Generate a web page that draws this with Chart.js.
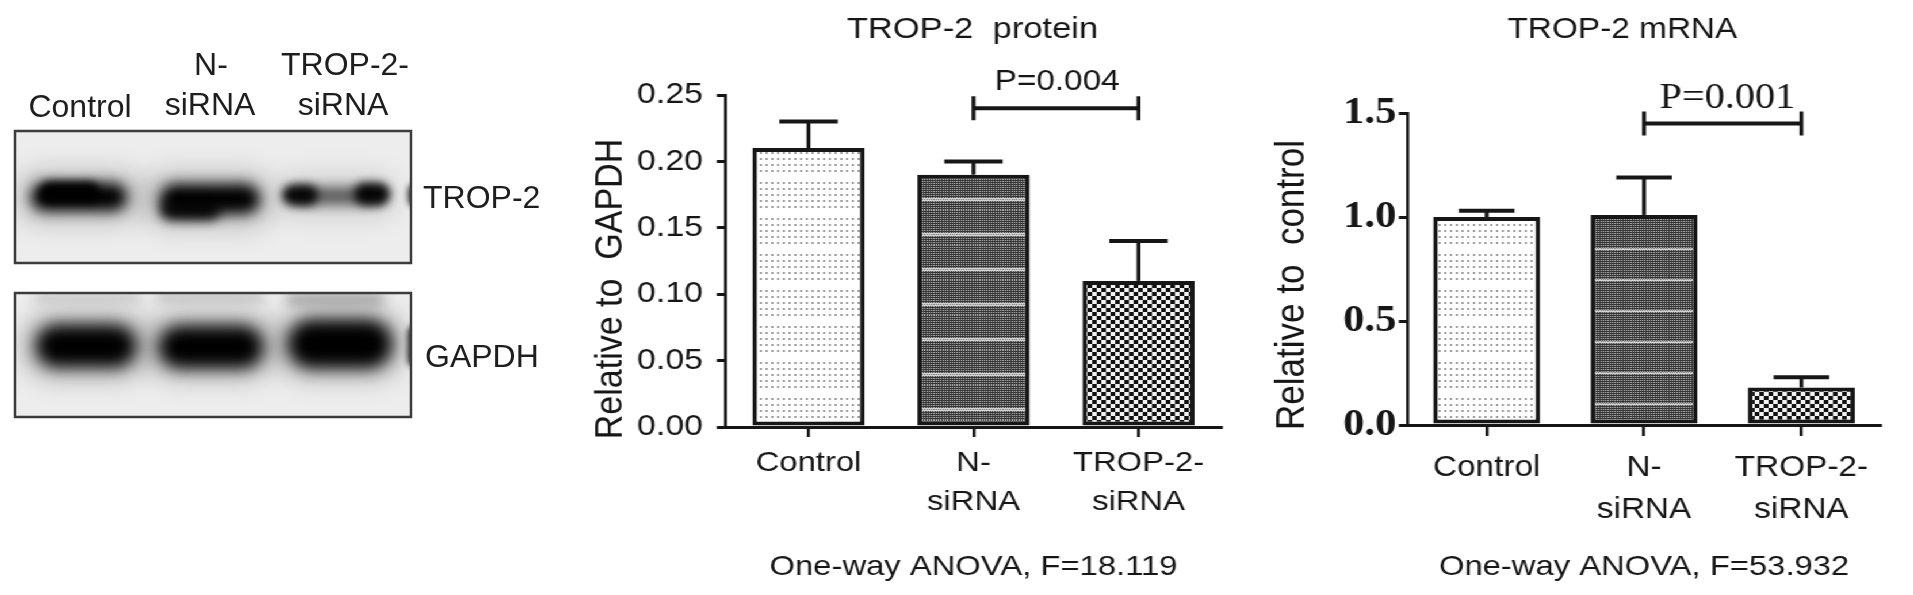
<!DOCTYPE html>
<html>
<head>
<meta charset="utf-8">
<script src="https://cdn.jsdelivr.net/npm/chart.js@4"></script>
<style>
  html, body { margin: 0; padding: 0; background: #fff; overflow: hidden; }
  #blot { position: absolute; left: 0; top: 0; }
  /* the reference figure is stretched sideways, so the chart part is drawn narrow and scaled */
  #wrap { position: absolute; left: 540px; top: 0; width: 1193px; height: 595px;
          transform: scaleX(1.1503); transform-origin: 0 0; }
  .box { position: absolute; top: 0; height: 595px; }
</style>
</head>
<body>
<canvas id="blot" width="540" height="595"></canvas>
<div id="wrap">
  <div class="box" style="left:0; width:620px;"><canvas id="protein"></canvas></div>
  <div class="box" style="left:620px; width:573px;"><canvas id="mrna"></canvas></div>
</div>
<script>
// data
const groups = ['Control', ['N-', 'siRNA'], ['TROP-2-', 'siRNA']];
const proteinMeans = [0.21, 0.19, 0.11];
const proteinErrors = [0.02, 0.01, 0.03];
const proteinTicks = ['0.00', '0.05', '0.10', '0.15', '0.20', '0.25'];
const mrnaMeans = [1.00, 1.01, 0.18];
const mrnaErrors = [0.03, 0.18, 0.05];
const mrnaTicks = ['0.0', '0.5', '1.0', '1.5'];

const INK = '#161616';
const SANS = "'Liberation Sans', Arial, Helvetica, sans-serif";
const SERIF = "'Liberation Serif', 'Times New Roman', serif";
Chart.defaults.color = INK;

// bar fill patterns
function makePattern(w, h, paint) {
    const c = document.createElement('canvas');
    c.width = w; c.height = h;
    const g = c.getContext('2d');
    paint(g, w, h);
    return g.createPattern(c, 'repeat');
}

// white with small grey dots
function dotPattern() {
    return makePattern(5, 36, (g, w, h) => {
        g.fillStyle = '#ffffff'; g.fillRect(0, 0, w, h);
        g.fillStyle = '#a2a2a2';
        for (let r = 0; r < 5; r++) g.fillRect(1, 2 + r * 6, 2, 2);
    });
}

// dense dark grey with lighter bands
function densePattern(h, bandRow) {
    return makePattern(2, h, (g, w) => {
        for (let y = 0; y < h; y++) {
            const band = Math.abs(y - bandRow) <= 1;
            for (let x = 0; x < w; x++) {
                const light = (x + y) % 2 === 0 && y % 2 === 0;
                g.fillStyle = band ? (light ? '#777' : '#d2d2d2') : (light ? '#bdbdbd' : '#353535');
                g.fillRect(x, y, 1, 1);
            }
        }
    });
}

// black and white checks
function checkPattern() {
    return makePattern(8, 8, g => {
        g.fillStyle = '#f2f2f2'; g.fillRect(0, 0, 8, 8);
        g.fillStyle = '#111'; g.fillRect(0, 0, 4, 4); g.fillRect(4, 4, 4, 4);
    });
}

// error bars, bracket, p value, titles
const annotate = {
    id: 'annotate',
    afterDatasetsDraw(chart, args, o) {
        const ctx = chart.ctx;
        const xs = chart.scales.x, ys = chart.scales.y;
        const bars = chart.getDatasetMeta(0).data;
        ctx.save();
        ctx.strokeStyle = INK;
        ctx.fillStyle = INK;

        o.errors.forEach((err, i) => {
            const bar = bars[i];
            const yTop = ys.getPixelForValue(o.means[i] + err);
            const half = bar.width * 0.26;
            ctx.lineWidth = 3.4;
            ctx.beginPath(); ctx.moveTo(bar.x, bar.y); ctx.lineTo(bar.x, yTop); ctx.stroke();
            ctx.lineWidth = 4;
            ctx.beginPath(); ctx.moveTo(bar.x - half, yTop); ctx.lineTo(bar.x + half, yTop); ctx.stroke();
        });

        const x0 = xs.getPixelForValue(o.bracket[0]);
        const x1 = xs.getPixelForValue(o.bracket[1]);
        const yb = ys.getPixelForValue(o.bracketAt);
        ctx.lineWidth = 4;
        ctx.beginPath(); ctx.moveTo(x0, yb); ctx.lineTo(x1, yb); ctx.stroke();
        ctx.lineWidth = 3.4;
        ctx.beginPath();
        ctx.moveTo(x0, yb - 12); ctx.lineTo(x0, yb + 12);
        ctx.moveTo(x1, yb - 12); ctx.lineTo(x1, yb + 12);
        ctx.stroke();

        ctx.textAlign = 'center';
        ctx.textBaseline = 'alphabetic';
        ctx.font = o.pFont;
        ctx.fillText(o.pText, (x0 + x1) / 2 + o.pShift, yb - o.pGap);

        ctx.font = o.titleFont;
        ctx.fillText(o.title, o.titleX, 38);

        ctx.translate(o.yTitleX, o.yTitleY);
        ctx.rotate(-Math.PI / 2);
        ctx.textBaseline = 'middle';
        ctx.font = o.yTitleFont;
        ctx.fillText(o.yTitle, 0, 0);
        ctx.restore();
    }
};

function barChart(id, cfg) {
    return new Chart(document.getElementById(id), {
        type: 'bar',
        data: {
            labels: groups,
            datasets: [{
                data: cfg.means,
                backgroundColor: cfg.fills,
                borderColor: INK,
                borderWidth: 4,
                borderSkipped: false,
                barPercentage: 0.68,
                categoryPercentage: 1
            }]
        },
        options: {
            responsive: true,
            maintainAspectRatio: false,
            animation: false,
            layout: { padding: { top: cfg.top, right: cfg.right, bottom: 0, left: 0 } },
            plugins: {
                legend: { display: false },
                tooltip: { enabled: false },
                annotate: cfg.notes
            },
            scales: {
                x: {
                    offset: true,
                    grid: { offset: false, drawOnChartArea: false, tickLength: cfg.xTick, lineWidth: 2.6, color: INK },
                    border: { color: INK, width: 3 },
                    ticks: { color: INK, font: cfg.xFont, padding: cfg.xPad, maxRotation: 0, autoSkip: false },
                    title: {
                        display: true, text: cfg.anova, color: INK,
                        font: { family: SANS, size: 28.5, lineHeight: 1.2 },
                        padding: { top: 0, bottom: 11 }
                    },
                    afterFit: s => { s.height = 595 - cfg.bottomAt; }
                },
                y: {
                    min: 0,
                    max: cfg.max,
                    ticks: {
                        stepSize: cfg.step,
                        color: INK,
                        font: cfg.yFont,
                        padding: cfg.yPad,
                        callback: (v, i) => cfg.tickLabels[i]
                    },
                    grid: { drawOnChartArea: false, tickLength: 8, lineWidth: 3, color: INK },
                    border: { color: INK, width: 2.6 },
                    afterFit: s => { s.width = cfg.axisAt; }
                }
            }
        },
        plugins: [annotate]
    });
}

// TROP-2 protein
barChart('protein', {
    means: proteinMeans,
    fills: [dotPattern(), densePattern(35, 24), checkPattern()],
    max: 0.25, step: 0.05, tickLabels: proteinTicks,
    top: 95, bottomAt: 427, axisAt: 161.7, right: 28,
    xTick: 10, xPad: 7,
    xFont: { family: SANS, size: 28.5, lineHeight: 1.36 },
    yFont: { family: SANS, size: 29.5 }, yPad: 12,
    anova: 'One-way ANOVA, F=18.119',
    notes: {
        means: proteinMeans, errors: proteinErrors,
        bracket: [1, 2], bracketAt: 0.24,
        pText: 'P=0.004', pFont: `29px ${SANS}`, pShift: 1, pGap: 18,
        title: 'TROP-2  protein', titleFont: `30px ${SANS}`, titleX: 376,
        yTitle: 'Relative to  GAPDH', yTitleFont: `34px ${SANS}`, yTitleX: 62, yTitleY: 289
    }
});

// TROP-2 mRNA
barChart('mrna', {
    means: mrnaMeans,
    fills: [dotPattern(), densePattern(31, 0), checkPattern()],
    max: 1.5, step: 0.5, tickLabels: mrnaTicks,
    top: 113, bottomAt: 425, axisAt: 134.6, right: 28,
    xTick: 11, xPad: 11,
    xFont: { family: SANS, size: 29, lineHeight: 1.45 },
    yFont: { family: SERIF, size: 37, weight: 'bold' }, yPad: 2,
    anova: 'One-way ANOVA, F=53.932',
    notes: {
        means: mrnaMeans, errors: mrnaErrors,
        bracket: [1, 2], bracketAt: 1.45,
        pText: 'P=0.001', pFont: `35px ${SERIF}`, pShift: 4, pGap: 15,
        title: 'TROP-2 mRNA', titleFont: `29px ${SANS}`, titleX: 321,
        yTitle: 'Relative to  control', yTitleFont: `35px ${SANS}`, yTitleX: 34, yTitleY: 285
    }
});

// western blot panel
function drawBlot() {
    const g = document.getElementById('blot').getContext('2d');

    function smear(list) {
        list.forEach(([cx, cy, w, h, a, blur]) => {
            g.save();
            g.filter = `blur(${blur}px)`;
            g.fillStyle = `rgba(0,0,0,${a})`;
            g.beginPath();
            g.roundRect(cx - w / 2, cy - h / 2, w, h, h / 2);
            g.fill();
            g.restore();
        });
    }

    const panels = [
        {
            box: [15, 131, 396, 132],
            bands: [
                [79, 197, 130, 54, 0.18, 12], [208, 200, 136, 58, 0.18, 12], [337, 196, 120, 44, 0.12, 12],
                [79, 197, 96, 28, 1, 7], [70, 192, 60, 20, 1, 4],
                [210, 199, 100, 30, 1, 7], [190, 210, 60, 20, 0.9, 6],
                [337, 196, 96, 18, 0.55, 6], [300, 195, 36, 20, 0.95, 5], [372, 194, 36, 22, 0.95, 5],
                [414, 195, 12, 22, 0.8, 3]
            ]
        },
        {
            box: [15, 293, 396, 124],
            bands: [
                [88, 298, 110, 10, 0.15, 6], [210, 297, 110, 10, 0.18, 6], [335, 299, 100, 12, 0.28, 6],
                [86, 346, 130, 66, 0.25, 12], [211, 346, 134, 66, 0.25, 12], [340, 344, 132, 70, 0.25, 12],
                [86, 346, 100, 42, 1, 8], [211, 347, 104, 42, 1, 8], [340, 344, 104, 48, 1, 8],
                [414, 346, 12, 40, 0.9, 3]
            ]
        }
    ];

    panels.forEach(p => {
        const [x, y, w, h] = p.box;
        g.save();
        g.beginPath(); g.rect(x, y, w, h); g.clip();
        g.fillStyle = '#ededed'; g.fillRect(x, y, w, h);
        smear(p.bands);
        g.restore();
        g.strokeStyle = '#3c3c3c';
        g.lineWidth = 2.5;
        g.strokeRect(x, y, w, h);
    });

    // lane and band labels
    g.fillStyle = '#1e1e1e';
    g.font = `32px ${SANS}`;
    g.textAlign = 'center';
    g.textBaseline = 'alphabetic';
    g.fillText('Control', 80, 117);
    g.fillText('N-', 211, 75);
    g.fillText('siRNA', 210, 115);
    g.fillText('TROP-2-', 345, 75);
    g.fillText('siRNA', 343, 115);
    g.textAlign = 'left';
    g.fillText('TROP-2', 423, 208);
    g.fillText('GAPDH', 425, 367);
}
drawBlot();
</script>
</body>
</html>
